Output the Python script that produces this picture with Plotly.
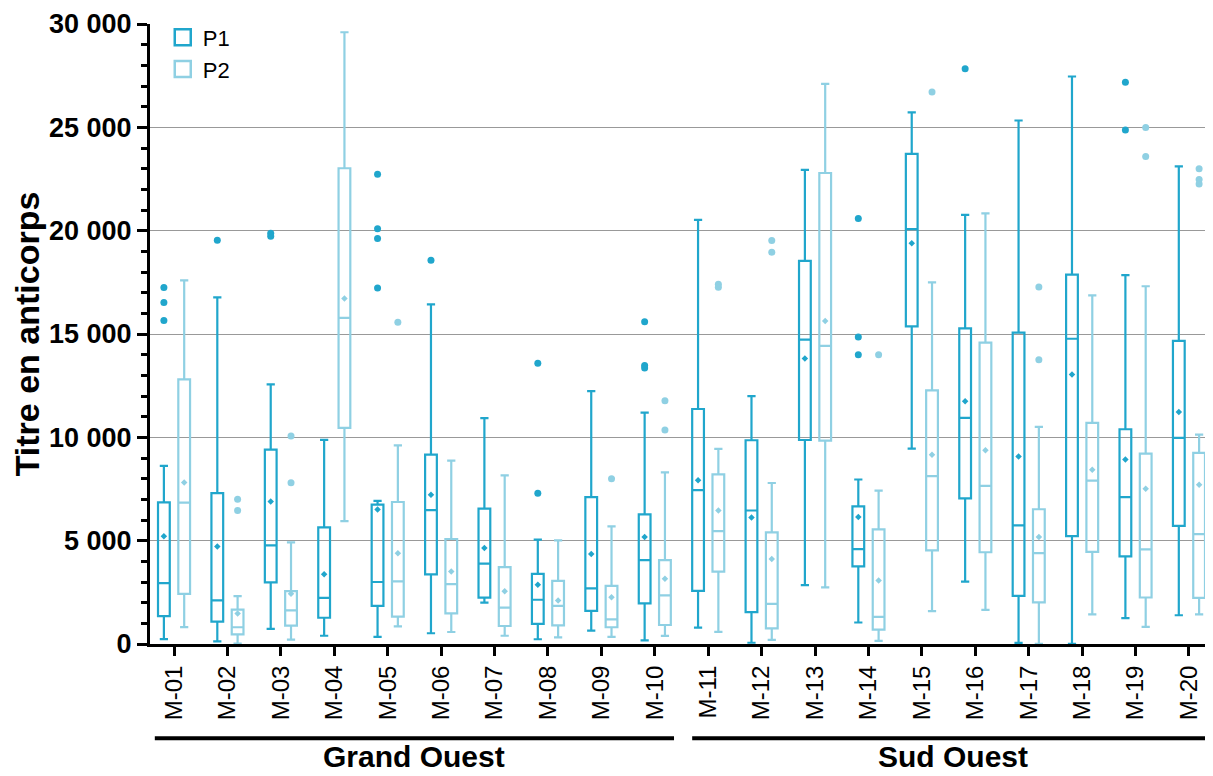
import plotly.graph_objects as go

# categories and groups
categories = ['M-01', 'M-02', 'M-03', 'M-04', 'M-05', 'M-06', 'M-07', 'M-08', 'M-09', 'M-10',
              'M-11', 'M-12', 'M-13', 'M-14', 'M-15', 'M-16', 'M-17', 'M-18', 'M-19', 'M-20']
groups = ['Grand Ouest', 'Sud Ouest']

# P1 statistics
p1_lo = [240, 130, 730, 400, 340, 520, 2000, 230, 650, 180,
         790, 60, 2850, 1040, 9450, 3020, 50, 10, 1250, 1390]
p1_q1 = [1350, 1080, 2980, 1270, 1840, 3370, 2240, 970, 1600, 1970,
         2570, 1540, 9870, 3760, 15370, 7050, 2330, 5220, 4240, 5720]
p1_med = [2950, 2110, 4770, 2230, 3000, 6480, 3890, 2140, 2690, 4060,
          7450, 6460, 14730, 4590, 20070, 10940, 5740, 14770, 7110, 9970]
p1_q3 = [6850, 7300, 9410, 5640, 6740, 9160, 6550, 3390, 7110, 6270,
         11370, 9860, 18540, 6660, 23720, 15270, 15070, 17870, 10390, 14670]
p1_hi = [8620, 16770, 12560, 9880, 6930, 16430, 10930, 5050, 12240, 11200,
         20520, 11990, 22940, 7960, 25720, 20760, 25330, 27460, 17850, 23110]
p1_mean = [5210, 4720, 6900, 3370, 6510, 7220, 4640, 2870, 4350, 5180,
           7920, 6120, 13820, 6140, 19390, 11740, 9070, 13040, 8930, 11220]
p1_out = [[17250, 16520, 15650], [19540], [19880, 19730], [], [22730, 20090, 19620, 17220],
          [18570], [], [13590, 7300], [], [15590, 13480, 13360],
          [], [], [], [20590, 14860, 13990], [], [27840], [], [], [27180, 24870], []]

# P2 statistics
p2_lo = [820, 20, 210, 5950, 850, 580, 400, 320, 340, 390,
         590, 200, 2740, 150, 1590, 1650, 10, 1430, 830, 1430]
p2_q1 = [2430, 470, 890, 10460, 1320, 1480, 870, 900, 810, 920,
         3500, 760, 9840, 700, 4530, 4440, 2010, 4460, 2250, 2230]
p2_med = [6840, 810, 1630, 15780, 3030, 2900, 1760, 1840, 1190, 2350,
          5460, 1940, 14430, 1310, 8120, 7650, 4400, 7910, 4580, 5320]
p2_q3 = [12800, 1660, 2560, 23020, 6870, 5080, 3720, 3050, 2810, 4060,
         8210, 5400, 22790, 5550, 12270, 14580, 6520, 10700, 9210, 9250]
p2_hi = [17590, 2320, 4920, 29600, 9610, 8870, 8160, 5010, 5690, 8300,
         9440, 7790, 27100, 7420, 17500, 20840, 10510, 16870, 17310, 10130]
p2_mean = [7820, 1480, 2430, 16720, 4390, 3510, 2550, 2110, 2260, 3160,
           6460, 4110, 15630, 3070, 9160, 9370, 5180, 8430, 7510, 7710]
p2_out = [[], [7000, 6460], [10060, 7800], [], [15570],
          [], [], [], [8000], [11770, 10350],
          [17410, 17260], [19520, 18960], [], [13990], [26710], [], [17270, 13760], [], [24990, 23590],
          [22990, 22480, 22260]]

series = [
    ('P1', p1_lo, p1_q1, p1_med, p1_q3, p1_hi, p1_mean, p1_out, '#20a6cc', -0.19),
    ('P2', p2_lo, p2_q1, p2_med, p2_q3, p2_hi, p2_mean, p2_out, '#8fd0e3', 0.19),
]

FONT = 'Liberation Sans, Arial, sans-serif'
idx = list(range(len(categories)))

fig = go.Figure()
for name, lo, q1, med, q3, hi, mean, out, col, off in series:
    xs = [i + off for i in idx]
    fig.add_trace(go.Box(
        x=xs, q1=q1, median=med, q3=q3, lowerfence=lo, upperfence=hi,
        name=name, width=0.22, whiskerwidth=0.7, boxpoints=False, showlegend=False,
        line=dict(color=col, width=2.2), fillcolor='rgba(255,255,255,0)',
        hoverinfo='skip'
    ))
    fig.add_trace(go.Scatter(
        x=xs, y=mean, mode='markers', showlegend=False, hoverinfo='skip',
        marker=dict(symbol='diamond', size=5, color=col)
    ))
    ox, oy = [], []
    for i, vals in enumerate(out):
        for v in vals:
            ox.append(i + off)
            oy.append(v)
    fig.add_trace(go.Scatter(
        x=ox, y=oy, mode='markers', showlegend=False, hoverinfo='skip',
        marker=dict(symbol='circle', size=7, color=col)
    ))
    # legend entry: open square like the original
    fig.add_trace(go.Scatter(
        x=[None], y=[None], mode='markers', name=name, hoverinfo='skip',
        marker=dict(symbol='square-open', size=20, color=col, line=dict(width=2.5, color=col))
    ))

# group brackets under the category labels
spans = [(-0.36, 9.36), (9.7, 19.45)]
for (a, b), g in zip(spans, groups):
    fig.add_shape(type='line', xref='x', yref='paper', x0=a, x1=b, y0=-0.152, y1=-0.152,
                  line=dict(color='black', width=4))
    fig.add_annotation(x=(a + b) / 2, y=-0.182, xref='x', yref='paper', text=g,
                       showarrow=False, yanchor='middle',
                       font=dict(family=FONT, size=30, color='black', weight='bold'))

# the page body adds an 8px margin, so the figure is a bit smaller than the window
fig.update_layout(
    width=1205, height=768,
    margin=dict(l=142, r=0, t=16, b=132),
    paper_bgcolor='white', plot_bgcolor='white',
    separators=', ',
    boxmode='overlay',
    font=dict(family=FONT, color='black'),
    legend=dict(x=0.012, y=1.012, xanchor='left', yanchor='top', bgcolor='rgba(0,0,0,0)',
                font=dict(size=22, family=FONT), tracegroupgap=0, itemwidth=30),
    xaxis=dict(
        range=[-0.45, 19.45], tickmode='array', tickvals=idx, ticktext=categories,
        tickangle=-90, tickfont=dict(size=24, family=FONT, color='black'),
        showline=True, linecolor='black', linewidth=3, ticks='outside', ticklen=9,
        tickwidth=3, tickcolor='black', showgrid=False, zeroline=False
    ),
    yaxis=dict(
        range=[0, 30000], tickmode='linear', tick0=0, dtick=5000, tickformat=',d',
        tickfont=dict(size=27, family=FONT, color='black', weight='bold'),
        title=dict(text='Titre en anticorps', standoff=10,
                   font=dict(size=34, family=FONT, color='black', weight='bold')),
        showline=True, linecolor='black', linewidth=3, ticks='outside', ticklen=10,
        tickwidth=3, tickcolor='black', showgrid=True, gridcolor='#999999', gridwidth=1,
        zeroline=False,
        minor=dict(dtick=1000, ticks='outside', ticklen=6, tickwidth=3, tickcolor='black',
                   showgrid=False)
    ),
)

fig.write_html('out.html')
